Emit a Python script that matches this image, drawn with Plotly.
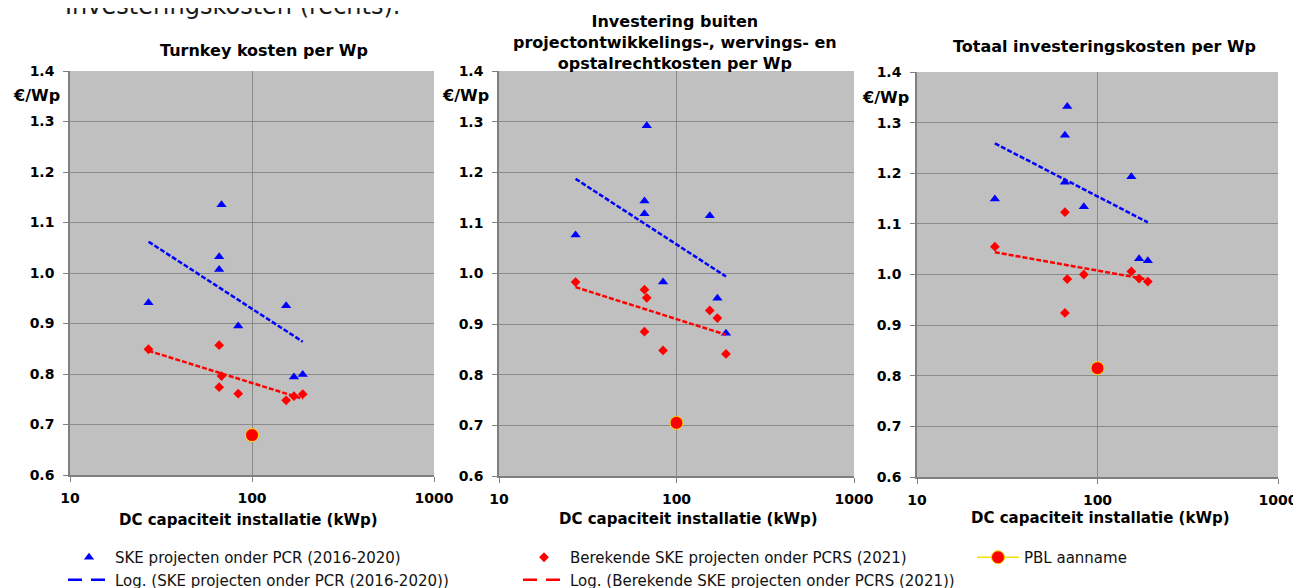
import plotly.graph_objects as go

# ---------------- data ----------------
capacity_kwp = [27, 66, 66, 68, 84, 154, 170, 190]

panel_titles = [
    "Turnkey kosten per Wp",
    "Investering buiten<br>projectontwikkelings-, wervings- en<br>opstalrechtkosten per Wp",
    "Totaal investeringskosten per Wp",
]

ske_pcr = [
    [0.941, 1.032, 1.007, 1.135, 0.895, 0.935, 0.794, 0.799],
    [1.076, 1.143, 1.118, 1.292, 0.983, 1.114, 0.951, 0.882],
    [1.149, 1.275, 1.182, 1.332, 1.134, 1.193, 1.031, 1.027],
]
ske_pcrs = [
    [0.849, 0.857, 0.774, 0.796, 0.761, 0.748, 0.756, 0.760],
    [0.983, 0.968, 0.885, 0.952, 0.848, 0.927, 0.912, 0.841],
    [1.055, 1.123, 0.924, 0.991, 1.000, 1.006, 0.992, 0.986],
]

trend_x = [27, 190]
trend_pcr = [[1.062, 0.864], [1.187, 0.994], [1.259, 1.103]]
trend_pcrs = [[0.846, 0.751], [0.973, 0.879], [1.044, 0.990]]

pbl_x = [100]
pbl_y = [0.679, 0.705, 0.815]

y_ticks = [0.6, 0.7, 0.8, 0.9, 1.0, 1.1, 1.2, 1.3, 1.4]
x_ticks = [10, 100, 1000]

names = [
    "SKE projecten onder PCR (2016-2020)",
    "Berekende SKE projecten onder PCRS (2021)",
    "PBL aanname",
    "Log. (SKE projecten onder PCR (2016-2020))",
    "Log. (Berekende SKE projecten onder PCRS (2021))",
]

# ---------------- layout geometry (page pixels) ----------------
PAGE_W, PAGE_H = 1301, 588
OFF = 8  # page body margin
W, H = PAGE_W - OFF, PAGE_H - OFF


def fx(px):
    return (px - OFF) / W


def fy(py):
    return 1 - (py - OFF) / H


panels_px = [  # x0, x1, ytop, ybottom
    (70, 434, 71, 475),
    (499, 854, 71, 476),
    (917, 1278, 72, 477),
]
title_pos = [(264, 50), (675, 42), (1104, 46)]
unit_pos = [(36, 95), (465, 96), (885, 97)]
xtitle_pos = [(248, 520), (688, 519), (1100, 518)]
legend_px = [(63, 541), (518, 541), (972, 541)]

FONT = "DejaVu Sans"
BLUE = "#0000FF"
RED = "#FF0000"
YEL = "#F5E100"
DASH = "5px,2px"
LEGEND_DASH = "14px,9px"

fig = go.Figure()

for i in range(3):
    sfx = "" if i == 0 else str(i + 1)
    xa, ya = "x" + sfx, "y" + sfx
    show = i == 0
    fig.add_trace(go.Scatter(
        x=capacity_kwp, y=ske_pcr[i], mode="markers", name=names[0],
        marker=dict(symbol="triangle-up", size=9, color=BLUE),
        xaxis=xa, yaxis=ya, showlegend=show, legend="legend"))
    fig.add_trace(go.Scatter(
        x=capacity_kwp, y=ske_pcrs[i], mode="markers", name=names[1],
        marker=dict(symbol="diamond", size=7.5, color=RED),
        xaxis=xa, yaxis=ya, showlegend=show, legend="legend2"))
    fig.add_trace(go.Scatter(
        x=pbl_x, y=[pbl_y[i]], mode="lines+markers", name=names[2],
        marker=dict(symbol="circle", size=13, color=RED, line=dict(color=YEL, width=1)),
        line=dict(color=YEL, width=1.5),
        xaxis=xa, yaxis=ya, showlegend=show, legend="legend3"))
    fig.add_trace(go.Scatter(
        x=trend_x, y=trend_pcr[i], mode="lines", name=names[3],
        line=dict(color=BLUE, width=2.5, dash=DASH),
        xaxis=xa, yaxis=ya, showlegend=False))
    fig.add_trace(go.Scatter(
        x=trend_x, y=trend_pcrs[i], mode="lines", name=names[4],
        line=dict(color=RED, width=2.5, dash=DASH),
        xaxis=xa, yaxis=ya, showlegend=False))

# legend entries for the trendlines (Excel draws them with longer dashes)
fig.add_trace(go.Scatter(
    x=[None], y=[None], mode="lines", name=names[3],
    line=dict(color=BLUE, width=2.5, dash=LEGEND_DASH),
    xaxis="x", yaxis="y", showlegend=True, legend="legend", hoverinfo="skip"))
fig.add_trace(go.Scatter(
    x=[None], y=[None], mode="lines", name=names[4],
    line=dict(color=RED, width=2.5, dash=LEGEND_DASH),
    xaxis="x", yaxis="y", showlegend=True, legend="legend2", hoverinfo="skip"))

layout = dict(
    width=W, height=H,
    margin=dict(l=0, r=0, t=0, b=0, autoexpand=False),
    paper_bgcolor="white",
    plot_bgcolor="#C0C0C0",
    font=dict(family=FONT, color="black"),
    showlegend=True,
)

for k, (lx, ly) in enumerate(legend_px):
    key = "legend" if k == 0 else "legend" + str(k + 1)
    layout[key] = dict(
        orientation="v", x=fx(lx), xanchor="left", y=fy(ly), yanchor="top",
        itemwidth=42, tracegroupgap=0,
        font=dict(family=FONT, size=15, color="#111111"),
        bgcolor="rgba(0,0,0,0)", borderwidth=0,
    )

annotations = []
for i, (x0, x1, yt, yb) in enumerate(panels_px):
    sfx = "" if i == 0 else str(i + 1)
    layout["xaxis" + sfx] = dict(
        type="log", range=[1, 3], domain=[fx(x0), fx(x1)],
        anchor="y" + sfx, tickvals=x_ticks, ticktext=[str(v) for v in x_ticks],
        showgrid=True, gridcolor="#8A8A8A", gridwidth=1,
        showline=True, linecolor="#7F7F7F", linewidth=1.5,
        ticks="outside", ticklen=5, tickcolor="#7F7F7F",
        tickfont=dict(family=FONT, size=14, weight="bold", color="black"),
        ticklabelstandoff=4, zeroline=False,
    )
    layout["yaxis" + sfx] = dict(
        range=[0.6, 1.4], domain=[fy(yb), fy(yt)],
        anchor="x" + sfx, tickvals=y_ticks, tickformat=".1f",
        showgrid=True, gridcolor="#8A8A8A", gridwidth=1,
        showline=True, linecolor="#7F7F7F", linewidth=1.5,
        ticks="outside", ticklen=5, tickcolor="#7F7F7F",
        tickfont=dict(family=FONT, size=14, weight="bold", color="black"),
        ticklabelstandoff=6, zeroline=False,
    )
    tx, ty = title_pos[i]
    annotations.append(dict(
        text=panel_titles[i], x=fx(tx), y=fy(ty), xref="paper", yref="paper",
        xanchor="center", yanchor="middle", showarrow=False,
        font=dict(family=FONT, size=16, weight="bold", color="black")))
    ux, uy = unit_pos[i]
    annotations.append(dict(
        text="€/Wp", x=fx(ux), y=fy(uy), xref="paper", yref="paper",
        xanchor="center", yanchor="middle", showarrow=False,
        font=dict(family=FONT, size=16, weight="bold", color="black")))
    ax, ay = xtitle_pos[i]
    annotations.append(dict(
        text="DC capaciteit installatie (kWp)", x=fx(ax), y=fy(ay),
        xref="paper", yref="paper", xanchor="center", yanchor="middle",
        showarrow=False,
        font=dict(family=FONT, size=15, weight="bold", color="black")))

annotations.append(dict(
    text="Investeringskosten (rechts).", x=fx(63), y=fy(6),
    xref="paper", yref="paper", xanchor="left", yanchor="middle",
    showarrow=False, font=dict(family=FONT, size=24, color="#1A1A1A")))

layout["annotations"] = annotations
fig.update_layout(**layout)

fig.write_html("out.html")
